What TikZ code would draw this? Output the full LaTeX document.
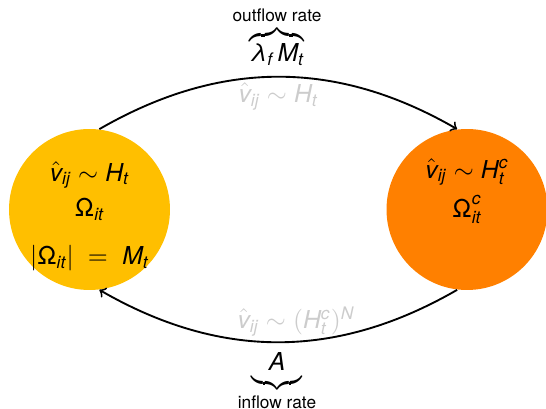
\documentclass[tikz,border=0pt]{standalone}
\usepackage{amsmath}
\usepackage{mathspec}
\setmainfont{TeX Gyre Heros}
\setmathsfont(Digits,Latin,Greek){TeX Gyre Heros}
\definecolor{poolin}{HTML}{FFBF00}
\definecolor{poolout}{HTML}{FF8000}
\begin{document}
\begin{tikzpicture}[
    x=0.4255pt, y=0.4255pt,
    font=\fontsize{10.5}{13}\selectfont,
    pool/.style={circle, minimum size=68.5pt, inner sep=0pt},
    flow/.style={->, thick},
    flowlbl/.style={text=black!20, inner sep=2pt},
  ]
    \useasboundingbox (0,0) rectangle (546,-409);
    % --- the two pools ---
    \node[pool, fill=poolin]  (in)  at (89.5,-209.5) {$\Omega_{it}$};
    \node[pool, fill=poolout] (out) at (467,-209.5) {$\Omega^c_{it}$};
    \node (indist)  at (89.5,-175) {$\hat{v}_{ij} \sim H_t$};
    \node (insize)  at (89.5,-258) {$|\Omega_{it}| \;=\; M_t$};
    \node (outdist) at (467,-172) {$\hat{v}_{ij} \sim H^c_t$};
    % --- flows between the pools ---
    \draw[flow] (in.83) to[bend left=30]
      node[flowlbl, below] {$\hat{v}_{ij} \sim H_t$} (out.97);
    \draw[flow] (out.-97) to[bend left=30]
      node[flowlbl, above, pos=0.45] {$\hat{v}_{ij} \sim (H^c_t)^N$} (in.-83);
    % --- rates ---
    \node (outrate) at (277,-36) {$\overbrace{\lambda_f\, M_t}^{\text{outflow rate}}$};
    \node (inrate)  at (277,-382) {$\underbrace{\mkern12mu A\vphantom{A_t}\mkern12mu}_{\text{inflow rate}}$};
\end{tikzpicture}
\end{document}
